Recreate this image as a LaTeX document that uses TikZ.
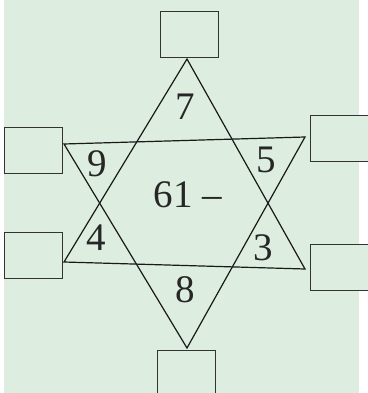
\documentclass[tikz,border=0pt]{standalone}
\usepackage{fontspec}
\setmainfont{Liberation Serif}
\definecolor{bggreen}{HTML}{DDEDDF}
\definecolor{boxline}{HTML}{333333}
\begin{document}
\begin{tikzpicture}[x=1pt,y=-1pt,
  answerbox/.style={draw=boxline,line width=0.9pt,fill=bggreen,minimum width=58pt,minimum height=46pt,inner sep=0pt,anchor=north west},
  num/.style={font=\fontsize{39}{39}\selectfont,inner sep=0pt,text=black!85},
  tri/.style={draw=black!90,line width=1.2pt,line join=miter}]
\useasboundingbox (0,0) rectangle (367,393);
\fill[bggreen] (4,0) rectangle (359,393);
% boxes
\node[answerbox] (btop) at (160,11) {};
\node[answerbox] (bul) at (4,127) {};
\node[answerbox] (bll) at (4,232) {};
\node[answerbox] (bur) at (310,115) {};
\node[answerbox] (blr) at (310,244) {};
\node[answerbox] (bbot) at (157,350) {};
% vertices
\coordinate (T) at (187,59);
\coordinate (LL) at (64,262);
\coordinate (LR) at (305,269);
\coordinate (UL) at (64,144);
\coordinate (UR) at (305,137);
\coordinate (B) at (187,348);
\draw[tri] (T) -- (LL) -- (LR) -- cycle;
\draw[tri] (UL) -- (UR) -- (B) -- cycle;
% numbers
\node[num] (n7) at (185,107) {7};
\node[num] (n9) at (97,164) {9};
\node[num] (n5) at (266,160) {5};
\node[num] (nc) at (188,195) {61 –};
\node[num] (n4) at (96,238) {4};
\node[num] (n3) at (263,248) {3};
\node[num] (n8) at (185,290) {8};
\end{tikzpicture}
\end{document}
